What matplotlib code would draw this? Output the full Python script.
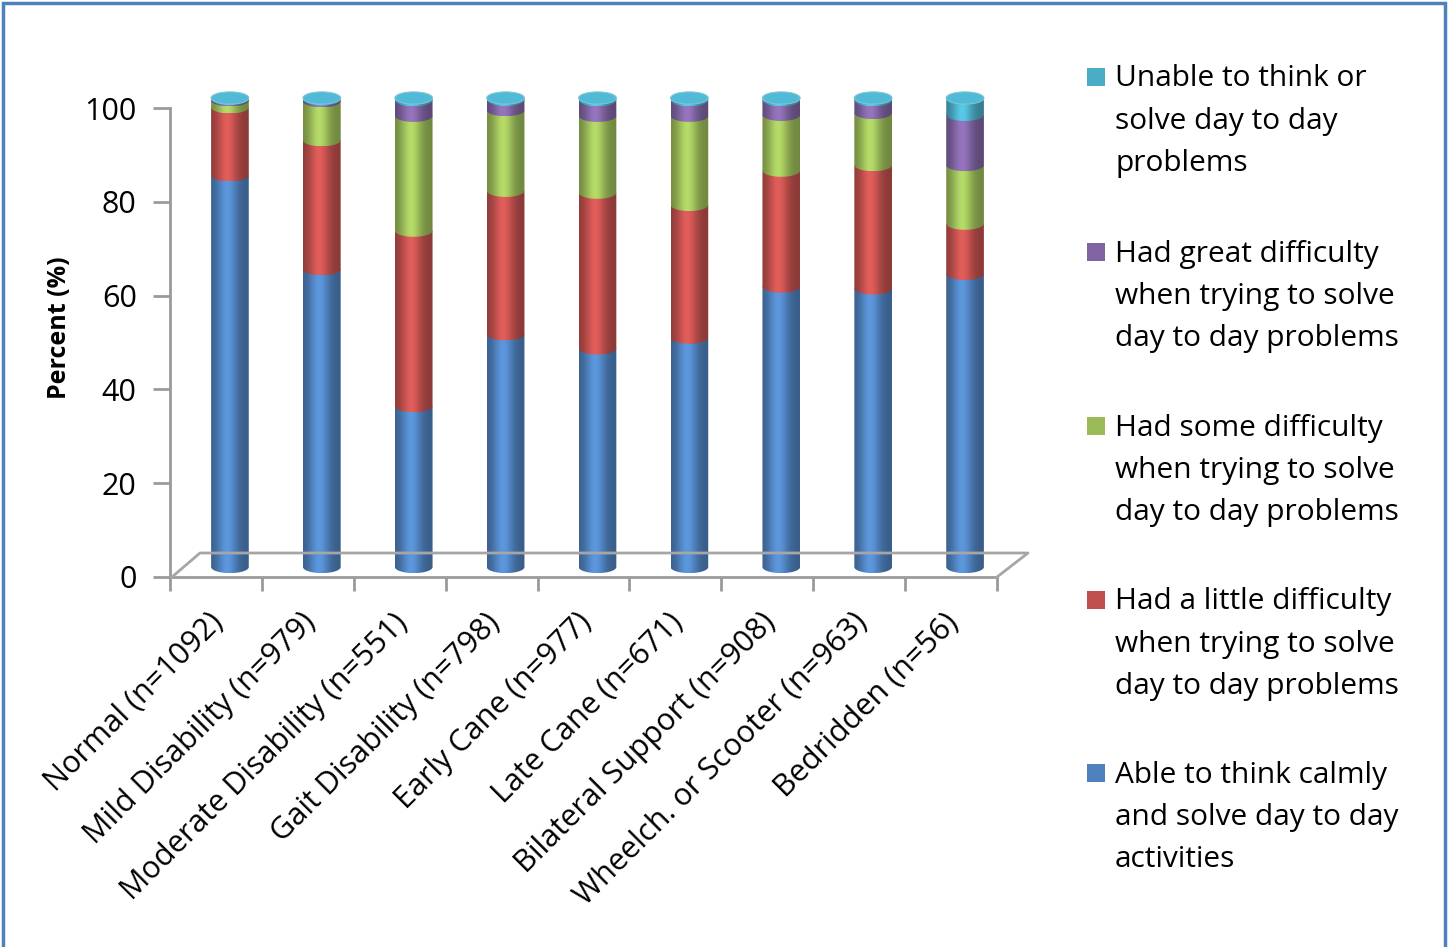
import numpy as np
import matplotlib.pyplot as plt
from matplotlib.path import Path
from matplotlib.patches import PathPatch, Ellipse, Rectangle
from matplotlib.colors import to_rgb

plt.rcParams['font.family'] = ['Open Sans', 'DejaVu Sans']

# Categories (x axis)
categories = ['Normal (n=1092)', 'Mild Disability (n=979)', 'Moderate Disability (n=551)',
              'Gait Disability (n=798)', 'Early Cane (n=977)', 'Late Cane (n=671)',
              'Bilateral Support (n=908)', 'Wheelch. or Scooter (n=963)', 'Bedridden (n=56)']

# Percent per response, bottom to top of each stack
able = [83.5, 63.5, 34.3, 49.6, 46.6, 48.9, 59.8, 59.4, 62.5]
little = [14.5, 27.5, 37.4, 30.6, 33.2, 28.3, 24.7, 26.3, 10.7]
some = [1.5, 8.3, 24.5, 17.2, 16.4, 19.0, 11.9, 11.1, 12.5]
great = [0.3, 0.4, 3.3, 2.2, 3.3, 3.3, 3.1, 2.7, 10.7]
unable = [0.2, 0.3, 0.5, 0.4, 0.5, 0.5, 0.5, 0.5, 3.6]

series_labels = ['Able to think calmly\nand solve day to day\nactivities',
                 'Had a little difficulty\nwhen trying to solve\nday to day problems',
                 'Had some difficulty\nwhen trying to solve\nday to day problems',
                 'Had great difficulty\nwhen trying to solve\nday to day problems',
                 'Unable to think or\nsolve day to day\nproblems']
series_colors = ['#4F81BD', '#C0504D', '#9BBB59', '#8064A2', '#4BACC6']

W, H = 1449, 947
fig = plt.figure(figsize=(W / 100, H / 100), dpi=100)

def fx(px):
    return px / W

def fy(py):
    return 1 - py / H

# main axis (ticks, floor)
ax = fig.add_axes([fx(170), fy(577), fx(997) - fx(170), (577 - 108) / H])
ax.set_xlim(-0.5, len(categories) - 0.5)
ax.set_ylim(0, 100)
ax.patch.set_alpha(0)
for s in ['top', 'right']:
    ax.spines[s].set_visible(False)
for s in ['left', 'bottom']:
    ax.spines[s].set_color('#9a9a9a')
    ax.spines[s].set_linewidth(2)
ax.set_yticks([0, 20, 40, 60, 80, 100])
ax.tick_params(axis='y', length=12, width=2, color='#9a9a9a', labelsize=22, pad=12)
ax.set_xticks(np.arange(len(categories) + 1) - 0.5)
ax.set_xticklabels([])
ax.tick_params(axis='x', length=10, width=2, color='#9a9a9a')
ax.set_xticks(np.arange(len(categories)) - 0.08, minor=True)
ax.set_xticklabels(categories, minor=True, rotation=45, ha='right', rotation_mode='anchor', fontsize=22)
ax.tick_params(axis='x', which='minor', length=0, pad=22)
ax.set_ylabel('Percent (%)', fontsize=18, fontweight='bold')
ax.yaxis.set_label_coords(-0.118, 0.531)

# 3D floor
floor_col = '#a6a6a6'
fig.add_artist(plt.Line2D([fx(172), fx(200), fx(1028), fx(997)], [fy(577), fy(553), fy(553), fy(577)],
                          color=floor_col, lw=2))

# bars axis, shifted as if standing mid-depth on the floor
ppu = (577 - 108) / 100.0
y_lo, y_hi = -5, 104
bx = fig.add_axes([fx(184), fy(567 + (-y_lo) * ppu), fx(997) - fx(170), (y_hi - y_lo) * ppu / H])
bx.set_xlim(-0.5, len(categories) - 0.5)
bx.set_ylim(y_lo, y_hi)
bx.axis('off')

bw = 0.41
eh = 2.6
prof = np.linspace(-1, 1, 64)
shade = 0.72 + 0.45 * np.exp(-((prof + 0.15) / 0.55) ** 2)

def seg_path(x, b, t):
    th = np.linspace(np.pi, 2 * np.pi, 40)
    xs = x + bw / 2 * np.cos(th)
    ys = b + eh / 2 * np.sin(th)
    verts = list(zip(xs, ys)) + [(x + bw / 2, t), (x - bw / 2, t), (xs[0], ys[0])]
    codes = [Path.MOVETO] + [Path.LINETO] * (len(verts) - 2) + [Path.CLOSEPOLY]
    return Path(verts, codes)

stack = [able, little, some, great, unable]
for i in range(len(categories)):
    bottom = 0
    for k, vals in enumerate(stack):
        v = vals[i]
        rgb = np.array(to_rgb(series_colors[k]))
        img = np.clip(shade[None, :, None] * rgb[None, None, :], 0, 1)
        top = bottom + v
        im = bx.imshow(img, extent=(i - bw / 2, i + bw / 2, bottom - eh / 2, top), aspect='auto',
                       interpolation='bilinear', zorder=2 + k)
        patch = PathPatch(seg_path(i, bottom, top), facecolor='none', edgecolor='none')
        bx.add_patch(patch)
        im.set_clip_path(patch)
        bottom = top
    cap = np.clip(np.array(to_rgb(series_colors[-1])) * 1.08, 0, 1)
    bx.add_patch(Ellipse((i, bottom), bw, eh, facecolor=cap, edgecolor='#7fc3d6', lw=0.8, zorder=10))

# legend
entry_y = [775, 602, 428, 254, 79]
for k in range(len(series_labels)):
    y0 = entry_y[k]
    fig.add_artist(Rectangle((fx(1087), fy(y0 + 7)), fx(18), 18 / H, transform=fig.transFigure,
                             facecolor=series_colors[k], edgecolor='none'))
    for j, line in enumerate(series_labels[k].split('\n')):
        fig.text(fx(1115), fy(y0 + j * 42.3), line, fontsize=21.5, va='center', ha='left')

# outer border
fig.add_artist(Rectangle((0.002, -0.01), 0.995, 1.007, transform=fig.transFigure,
                         facecolor='none', edgecolor='#4F81BD', lw=2.5))

fig.savefig('out.png', dpi=100)
